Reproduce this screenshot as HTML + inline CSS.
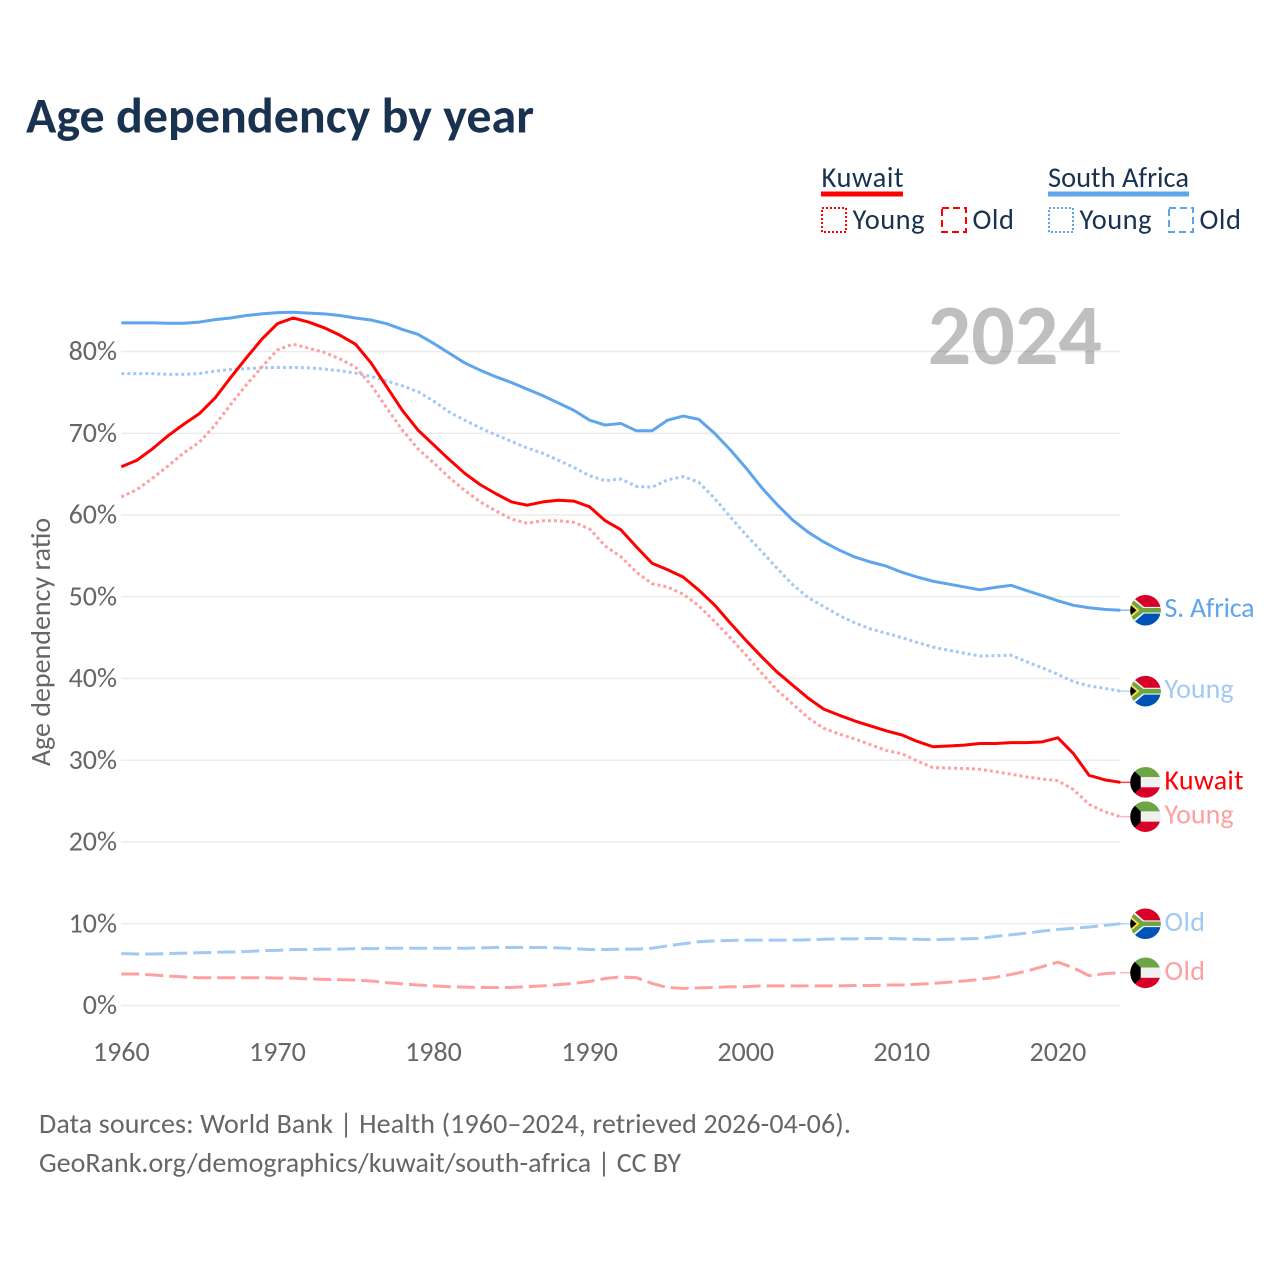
<!DOCTYPE html>
<html lang="en">
<head>
<meta charset="utf-8">
<title>Age dependency by year</title>
<style>
html,body{margin:0;padding:0;background:#fff;width:1280px;height:1280px;overflow:hidden}
svg{display:block}
text{font-family:"Carlito","Lato","Liberation Sans",sans-serif}
</style>
</head>
<body>
<svg id="chart" xmlns="http://www.w3.org/2000/svg" width="1280" height="1280" viewBox="0 0 1280 1280">
  <defs>
    <clipPath id="flag-clip"><circle cx="0" cy="0" r="15.3"/></clipPath>
    <g id="flag-za" clip-path="url(#flag-clip)">
      <rect x="-16" y="-16" width="32" height="16" fill="#d80027"/>
      <rect x="-16" y="0" width="32" height="16" fill="#0052b4"/>
      <path d="M-16,-16 L-1.5,-3.4 L16,-3.4 L16,3.4 L-1.5,3.4 L-16,16 Z" fill="#f0f0f0"/>
      <path d="M-16,-13 L-2.5,-2.3 L16,-2.3 L16,2.3 L-2.5,2.3 L-16,13 Z" fill="#6da544"/>
      <path d="M-16,-8.5 L-6,0 L-16,8.5 Z" fill="#ffda44"/>
      <path d="M-16,-6 L-9,0 L-16,6 Z" fill="#000"/>
    </g>
    <g id="flag-kw" clip-path="url(#flag-clip)">
      <rect x="-16" y="-16" width="32" height="11" fill="#6da544"/>
      <rect x="-16" y="-5.3" width="32" height="10.6" fill="#f0f0f0"/>
      <rect x="-16" y="5" width="32" height="11" fill="#d80027"/>
      <path d="M-16,-16 L-4.8,-5.3 L-4.8,5.3 L-16,16 Z" fill="#000"/>
    </g>
  </defs>

  <text x="26" y="132.5" font-size="50" font-weight="700" fill="#18324f" textLength="508" lengthAdjust="spacing">Age dependency by year</text>

  <g>
    <g>
      <text x="821.5" y="187" font-size="28.5" fill="#18324f" textLength="82" lengthAdjust="spacing">Kuwait</text>
      <rect x="821" y="191.5" width="82" height="5" fill="#ff0000"/>
      <rect x="822" y="208" width="24" height="24" fill="none" stroke="#ff0000" stroke-width="2" stroke-dasharray="2 2"/>
      <text x="852.5" y="229" font-size="28.5" fill="#18324f" textLength="72" lengthAdjust="spacing">Young</text>
      <rect x="942" y="208" width="24" height="24" fill="none" stroke="#ff0000" stroke-width="2" stroke-dasharray="7 4"/>
      <text x="972.5" y="229" font-size="28.5" fill="#18324f" textLength="41.5" lengthAdjust="spacing">Old</text>
    </g>
    <g>
      <text x="1048" y="187" font-size="28.5" fill="#18324f" textLength="141" lengthAdjust="spacing">South Africa</text>
      <rect x="1048" y="191.5" width="141" height="5" fill="#5fa5ee"/>
      <rect x="1049" y="208" width="24" height="24" fill="none" stroke="#5fa5ee" stroke-width="2" stroke-dasharray="2 2"/>
      <text x="1079.5" y="229" font-size="28.5" fill="#18324f" textLength="72" lengthAdjust="spacing">Young</text>
      <rect x="1169" y="208" width="24" height="24" fill="none" stroke="#5fa5ee" stroke-width="2" stroke-dasharray="7 4"/>
      <text x="1199.5" y="229" font-size="28.5" fill="#18324f" textLength="41.5" lengthAdjust="spacing">Old</text>
    </g>
  </g>

  <g id="grid"></g>
  <g id="y-ticks"></g>
  <g id="x-ticks"></g>

  <text transform="translate(50,642) rotate(-90)" text-anchor="middle" font-size="28" fill="#666666">Age dependency ratio</text>

  <text x="1102" y="364" text-anchor="end" font-size="86" font-weight="700" fill="#000000" fill-opacity="0.25">2024</text>

  <g id="series"></g>
  <g id="end-labels"></g>

  <text x="39" y="1133" font-size="28" fill="#666666" textLength="812" lengthAdjust="spacing">Data sources: World Bank | Health (1960–2024, retrieved 2026-04-06).</text>
  <text x="39" y="1172" font-size="28" fill="#666666" textLength="642" lengthAdjust="spacing">GeoRank.org/demographics/kuwait/south-africa | CC BY</text>
</svg>

<script>
const startYear = 1960;
const yTicks = [0, 10, 20, 30, 40, 50, 60, 70, 80];
const xTicks = [1960, 1970, 1980, 1990, 2000, 2010, 2020];

const kuwaitTotal = [65.9,66.7,68.1,69.7,71.1,72.4,74.3,76.8,79.2,81.5,83.4,84.1,83.6,82.9,82.0,80.9,78.6,75.7,72.8,70.4,68.6,66.8,65.1,63.7,62.6,61.6,61.2,61.6,61.8,61.7,61.0,59.3,58.2,56.1,54.1,53.3,52.4,50.8,49.0,46.8,44.7,42.7,40.8,39.2,37.6,36.25,35.5,34.8,34.2,33.6,33.1,32.3,31.65,31.75,31.85,32.05,32.05,32.15,32.15,32.25,32.75,30.8,28.15,27.6,27.3];
const kuwaitYoung = [62.2,63.1,64.5,66.0,67.6,68.9,71.0,73.5,75.9,78.1,80.2,80.9,80.4,79.9,79.1,78.1,75.9,73.1,70.4,68.1,66.4,64.6,63.0,61.6,60.5,59.5,59.0,59.3,59.3,59.1,58.3,56.2,54.9,53.0,51.6,51.2,50.3,48.9,47.0,45.0,42.9,40.7,38.6,36.9,35.2,33.9,33.2,32.6,31.9,31.2,30.8,29.9,29.1,29.05,29.0,28.9,28.6,28.3,27.95,27.7,27.5,26.4,24.6,23.7,23.1];
const kuwaitOld = [3.85,3.85,3.75,3.6,3.5,3.4,3.4,3.4,3.4,3.4,3.35,3.35,3.25,3.2,3.15,3.1,3.0,2.8,2.65,2.5,2.4,2.3,2.25,2.2,2.2,2.2,2.3,2.4,2.55,2.7,2.95,3.3,3.5,3.4,2.7,2.2,2.1,2.15,2.2,2.3,2.3,2.4,2.4,2.4,2.4,2.4,2.4,2.45,2.45,2.5,2.5,2.6,2.7,2.85,3.0,3.2,3.45,3.8,4.2,4.75,5.3,4.6,3.65,3.9,4.0];
const southAfricaTotal = [83.5,83.5,83.5,83.45,83.45,83.6,83.9,84.1,84.4,84.6,84.75,84.8,84.7,84.6,84.4,84.1,83.85,83.4,82.7,82.1,81.0,79.8,78.6,77.7,76.9,76.2,75.4,74.6,73.7,72.8,71.6,71.0,71.2,70.3,70.3,71.6,72.1,71.7,70.0,68.0,65.8,63.4,61.3,59.4,57.9,56.7,55.7,54.85,54.25,53.75,53.0,52.4,51.9,51.55,51.2,50.85,51.15,51.4,50.75,50.15,49.5,48.95,48.65,48.45,48.35];
const southAfricaYoung = [77.3,77.3,77.3,77.2,77.2,77.3,77.6,77.8,77.9,78.0,78.05,78.05,78.0,77.85,77.65,77.35,76.95,76.4,75.8,75.1,73.95,72.6,71.6,70.65,69.8,69.0,68.2,67.55,66.7,65.8,64.8,64.2,64.4,63.5,63.4,64.3,64.7,64.0,62.05,59.8,57.6,55.6,53.5,51.5,49.9,48.8,47.7,46.8,46.05,45.55,45.0,44.4,43.85,43.45,43.1,42.75,42.8,42.85,42.05,41.3,40.5,39.6,39.1,38.8,38.45];
const southAfricaOld = [6.35,6.3,6.3,6.35,6.4,6.45,6.5,6.55,6.6,6.7,6.75,6.85,6.85,6.9,6.9,6.95,6.95,7.0,7.0,7.0,7.0,7.0,7.0,7.05,7.1,7.1,7.1,7.1,7.05,6.95,6.85,6.85,6.9,6.9,7.0,7.3,7.55,7.8,7.9,7.95,8.0,8.0,8.0,8.0,8.05,8.1,8.15,8.15,8.2,8.2,8.15,8.1,8.05,8.1,8.15,8.2,8.45,8.65,8.85,9.1,9.3,9.45,9.6,9.8,10.0];

const SVGNS = "http://www.w3.org/2000/svg";
function xScale(year) { return 121.3 + (year - 1960) * 15.61; }
function yScale(value) { return 1005.5 - value * 8.175; }
function make(tag, parent, attrs) {
  const el = document.createElementNS(SVGNS, tag);
  for (const k in attrs) el.setAttribute(k, attrs[k]);
  parent.appendChild(el);
  return el;
}

const gridG = document.getElementById("grid");
const yG = document.getElementById("y-ticks");
yTicks.forEach(function (t) {
  const line = make("line", gridG, { x1: 121, x2: 1120, y1: yScale(t), y2: yScale(t), stroke: "#ececec", "stroke-width": 1.5 });
  
  
  const lab = make("text", yG, { x: 117, y: yScale(t) + 8.5, "text-anchor": "end", "font-size": 28, fill: "#666666" });
  lab.textContent = t + "%";
  
  
});

const xG = document.getElementById("x-ticks");
xTicks.forEach(function (t) {
  const lab = make("text", xG, { x: xScale(t), y: 1061, "text-anchor": "middle", "font-size": 28, fill: "#666666" });
  lab.textContent = String(t);
  
  
});

const DOT = "3 3";
const DASH = "18 6";
const seriesG = document.getElementById("series");
const labelG = document.getElementById("end-labels");
function drawSeries(name, values, color, dash, flag, labelText, labelWidth) {
  const pts = values.map(function (v, i) { return xScale(startYear + i).toFixed(2) + "," + yScale(v).toFixed(2); });
  const attrs = { points: pts.join(" "), fill: "none", stroke: color, "stroke-width": 3, "stroke-linejoin": "round" };
  if (dash) attrs["stroke-dasharray"] = dash;
  const line = make("polyline", seriesG, attrs);
  
  

  const lastY = yScale(values[values.length - 1]);
  const conn = make("line", labelG, { x1: 1120, x2: 1131, y1: lastY, y2: lastY, stroke: color, "stroke-width": 1.5, opacity: 0.75 });
  
  

  const f = make("use", labelG, { href: "#" + flag, transform: "translate(1145.5," + lastY.toFixed(2) + ")" });
  
  

  const t = make("text", labelG, { x: 1164.5, y: lastY + 7, "font-size": 28, fill: color, textLength: labelWidth, lengthAdjust: "spacing" });
  t.textContent = labelText;
  
  
}

drawSeries("south-africa-old", southAfricaOld, "#a2c9f3", DASH, "flag-za", "Old", 40.5);
drawSeries("kuwait-old", kuwaitOld, "#ff9f9f", DASH, "flag-kw", "Old", 40.5);
drawSeries("south-africa-young", southAfricaYoung, "#a2c9f3", DOT, "flag-za", "Young", 69);
drawSeries("kuwait-young", kuwaitYoung, "#ff9f9f", DOT, "flag-kw", "Young", 69);
drawSeries("south-africa-total", southAfricaTotal, "#5fa5ee", null, "flag-za", "S. Africa", 90);
drawSeries("kuwait-total", kuwaitTotal, "#ff0000", null, "flag-kw", "Kuwait", 79);
</script>
</body>
</html>
